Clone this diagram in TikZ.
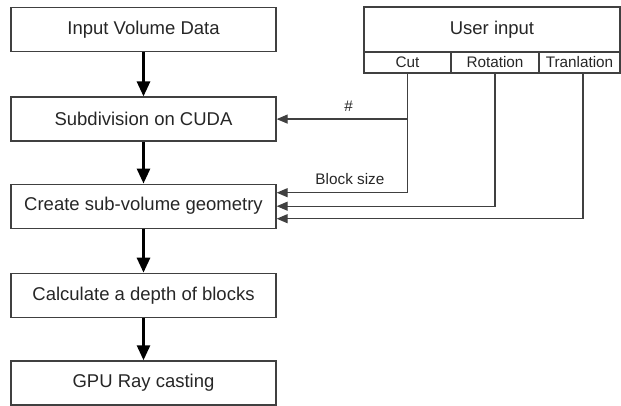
\documentclass[tikz,border=0pt]{standalone}
\usepackage{fontspec}
\setmainfont{Liberation Sans}
\usetikzlibrary{arrows.meta,positioning}

\begin{document}
\begin{tikzpicture}[x=1pt,y=1pt,
  stepbox/.style={draw=black!75,line width=1.3pt,minimum width=265pt,minimum height=44pt,
    font=\fontsize{18.5}{22}\selectfont,text=black!85},
  cell/.style={draw=black!75,line width=1.3pt,minimum height=21pt,inner sep=0pt,outer sep=0pt,
    font=\fontsize{15.3}{18}\selectfont,text=black!85},
  flow/.style={line width=2.8pt,-{Triangle[length=15pt,width=13pt]}},
  feed/.style={draw=black!75,line width=1.2pt,-{Triangle[length=11pt,width=9pt]}},
  lbl/.style={font=\fontsize{15.3}{18}\selectfont,text=black!85}]
\useasboundingbox (0,0) rectangle (621,-406);
% pipeline
\node[stepbox] (input) at (143.5,-29.5) {Input Volume Data};
\node[stepbox,below=44.3pt of input] (subdiv) {Subdivision on CUDA};
\node[stepbox,below=41.8pt of subdiv] (geom) {Create sub-volume geometry};
\node[stepbox,below=43.8pt of geom] (depth) {Calculate a depth of blocks};
\node[stepbox,below=42.3pt of depth] (raycast) {GPU Ray casting};
\foreach \a/\b in {input/subdiv,subdiv/geom,geom/depth,depth/raycast}
  \draw[flow] (\a) -- (\b);
% user input table
\node[stepbox,minimum width=256pt,minimum height=45pt,outer sep=0pt] (user) at (492,-29.5) {User input};
\node[cell,minimum width=87pt,anchor=north west] (cut) at (user.south west) {Cut};
\node[cell,minimum width=88pt,anchor=north west] (rot) at (cut.north east) {Rotation};
\node[cell,minimum width=81pt,anchor=north west] (tran) at (rot.north east) {Tranlation};
% feeds
\draw[feed] (cut.south) |- node[lbl,pos=0.72,above=4pt] {Block size} ([yshift=13.5pt]geom.east);
\draw[feed] (cut.south |- subdiv.east) -- node[lbl,pos=0.45,above=4pt] {\#} (subdiv.east);
\draw[feed] (rot.south) |- (geom.east);
\draw[feed] ([xshift=3.5pt]tran.south) |- ([yshift=-12.5pt]geom.east);
\end{tikzpicture}
\end{document}
